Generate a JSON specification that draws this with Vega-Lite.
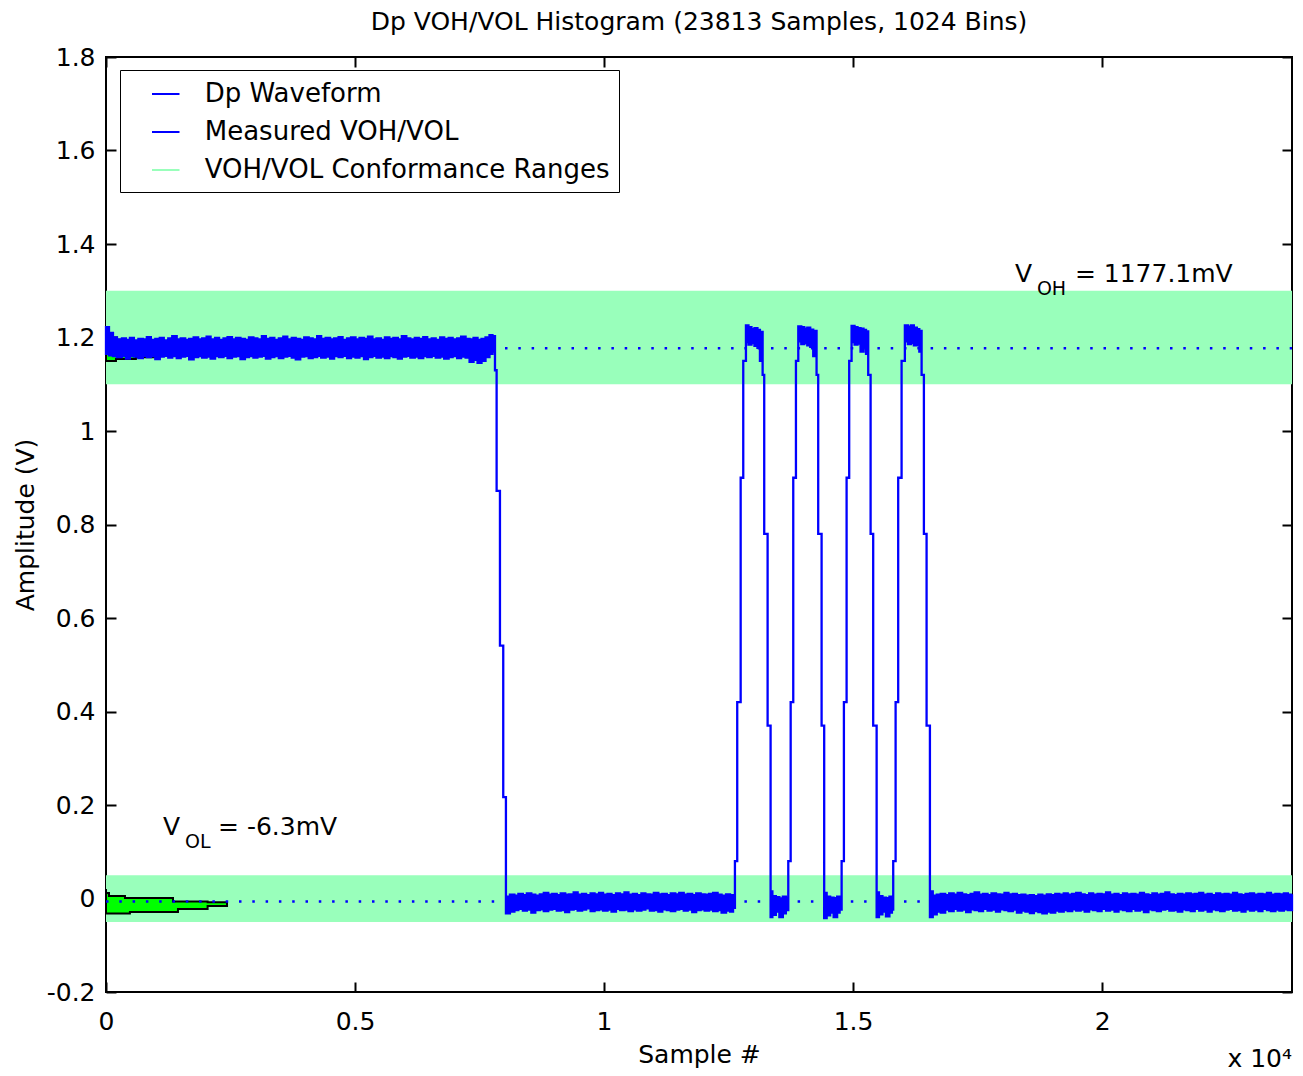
{
  "$schema": "https://vega.github.io/schema/vega-lite/v6.json",
  "width": 1186,
  "height": 935,
  "autosize": {"type": "none"},
  "padding": {"left": 106, "top": 57, "right": 11, "bottom": 84},
  "background": "white",
  "title": {"text": "Dp VOH/VOL Histogram (23813 Samples, 1024 Bins)", "fontSize": 25, "fontWeight": "normal", "font": "DejaVu Sans", "color": "black", "anchor": "middle", "offset": 10},
  "config": {
    "font": "DejaVu Sans",
    "view": {"stroke": "black", "strokeWidth": 2},
    "axis": {"grid": false, "domain": false, "tickColor": "black", "tickWidth": 2, "tickSize": -10, "labelFontSize": 25, "labelColor": "black", "labelFont": "DejaVu Sans", "titleFontSize": 25, "titleFontWeight": "normal", "titleColor": "black", "titleFont": "DejaVu Sans", "labelFlush": false, "labelOverlap": false, "minExtent": 0}
  },
  "resolve": {"axis": {"x": "independent", "y": "independent"}},
  "datasets": {
    "bands": [
      {"x0": 0, "x1": 23813, "lo": 1.1, "hi": 1.3},
      {"x0": 0, "x1": 23813, "lo": -0.05, "hi": 0.05}
    ],
    "hist": [
      {"g": "high", "v": 1.150, "n": 60},
      {"g": "high", "v": 1.154, "n": 200},
      {"g": "high", "v": 1.158, "n": 600},
      {"g": "high", "v": 1.163, "n": 1000},
      {"g": "high", "v": 1.170, "n": 1250},
      {"g": "high", "v": 1.180, "n": 1100},
      {"g": "high", "v": 1.188, "n": 700},
      {"g": "high", "v": 1.195, "n": 350},
      {"g": "high", "v": 1.200, "n": 220},
      {"g": "high", "v": 1.206, "n": 140},
      {"g": "high", "v": 1.213, "n": 60},
      {"g": "high", "v": 1.220, "n": 0},
      {"g": "low", "v": -0.032, "n": 120},
      {"g": "low", "v": -0.029, "n": 480},
      {"g": "low", "v": -0.0225, "n": 1445},
      {"g": "low", "v": -0.016, "n": 2040},
      {"g": "low", "v": -0.0080, "n": 2430},
      {"g": "low", "v": -0.0062, "n": 2040},
      {"g": "low", "v": 0.001, "n": 1345},
      {"g": "low", "v": 0.0054, "n": 381},
      {"g": "low", "v": 0.0118, "n": 60},
      {"g": "low", "v": 0.0203, "n": 0}
    ],
    "wave": [
      {"t": 0, "lo": 1.165, "hi": 1.222},
      {"t": 60, "lo": 1.162, "hi": 1.210},
      {"t": 140, "lo": 1.160, "hi": 1.200},
      {"t": 220, "lo": 1.158, "hi": 1.196},
      {"t": 320, "lo": 1.161, "hi": 1.198},
      {"t": 400, "lo": 1.155, "hi": 1.195},
      {"t": 480, "lo": 1.160, "hi": 1.199},
      {"t": 560, "lo": 1.159, "hi": 1.194},
      {"t": 650, "lo": 1.156, "hi": 1.197},
      {"t": 740, "lo": 1.161, "hi": 1.196},
      {"t": 820, "lo": 1.158, "hi": 1.201},
      {"t": 900, "lo": 1.160, "hi": 1.195},
      {"t": 990, "lo": 1.154, "hi": 1.197},
      {"t": 1080, "lo": 1.159, "hi": 1.199},
      {"t": 1160, "lo": 1.161, "hi": 1.194},
      {"t": 1250, "lo": 1.157, "hi": 1.198},
      {"t": 1330, "lo": 1.160, "hi": 1.203},
      {"t": 1420, "lo": 1.156, "hi": 1.196},
      {"t": 1500, "lo": 1.159, "hi": 1.198},
      {"t": 1590, "lo": 1.161, "hi": 1.195},
      {"t": 1670, "lo": 1.153, "hi": 1.197},
      {"t": 1760, "lo": 1.158, "hi": 1.200},
      {"t": 1850, "lo": 1.160, "hi": 1.196},
      {"t": 1930, "lo": 1.157, "hi": 1.198},
      {"t": 2020, "lo": 1.159, "hi": 1.202},
      {"t": 2100, "lo": 1.155, "hi": 1.196},
      {"t": 2190, "lo": 1.160, "hi": 1.199},
      {"t": 2270, "lo": 1.158, "hi": 1.195},
      {"t": 2360, "lo": 1.161, "hi": 1.198},
      {"t": 2440, "lo": 1.156, "hi": 1.201},
      {"t": 2530, "lo": 1.159, "hi": 1.196},
      {"t": 2610, "lo": 1.160, "hi": 1.199},
      {"t": 2700, "lo": 1.154, "hi": 1.197},
      {"t": 2790, "lo": 1.158, "hi": 1.195},
      {"t": 2870, "lo": 1.160, "hi": 1.200},
      {"t": 2960, "lo": 1.157, "hi": 1.198},
      {"t": 3040, "lo": 1.159, "hi": 1.196},
      {"t": 3130, "lo": 1.161, "hi": 1.203},
      {"t": 3210, "lo": 1.155, "hi": 1.197},
      {"t": 3300, "lo": 1.158, "hi": 1.199},
      {"t": 3380, "lo": 1.160, "hi": 1.195},
      {"t": 3470, "lo": 1.156, "hi": 1.198},
      {"t": 3560, "lo": 1.159, "hi": 1.202},
      {"t": 3640, "lo": 1.161, "hi": 1.196},
      {"t": 3730, "lo": 1.157, "hi": 1.199},
      {"t": 3810, "lo": 1.153, "hi": 1.197},
      {"t": 3900, "lo": 1.159, "hi": 1.195},
      {"t": 3980, "lo": 1.160, "hi": 1.200},
      {"t": 4070, "lo": 1.156, "hi": 1.198},
      {"t": 4150, "lo": 1.158, "hi": 1.196},
      {"t": 4240, "lo": 1.161, "hi": 1.203},
      {"t": 4320, "lo": 1.157, "hi": 1.197},
      {"t": 4410, "lo": 1.159, "hi": 1.199},
      {"t": 4500, "lo": 1.155, "hi": 1.196},
      {"t": 4580, "lo": 1.160, "hi": 1.198},
      {"t": 4670, "lo": 1.158, "hi": 1.201},
      {"t": 4750, "lo": 1.161, "hi": 1.195},
      {"t": 4840, "lo": 1.156, "hi": 1.198},
      {"t": 4920, "lo": 1.159, "hi": 1.200},
      {"t": 5010, "lo": 1.157, "hi": 1.196},
      {"t": 5090, "lo": 1.160, "hi": 1.199},
      {"t": 5180, "lo": 1.154, "hi": 1.197},
      {"t": 5260, "lo": 1.158, "hi": 1.202},
      {"t": 5350, "lo": 1.161, "hi": 1.196},
      {"t": 5430, "lo": 1.157, "hi": 1.198},
      {"t": 5520, "lo": 1.159, "hi": 1.195},
      {"t": 5600, "lo": 1.156, "hi": 1.200},
      {"t": 5690, "lo": 1.160, "hi": 1.197},
      {"t": 5770, "lo": 1.158, "hi": 1.199},
      {"t": 5860, "lo": 1.155, "hi": 1.196},
      {"t": 5940, "lo": 1.159, "hi": 1.203},
      {"t": 6030, "lo": 1.161, "hi": 1.198},
      {"t": 6110, "lo": 1.157, "hi": 1.196},
      {"t": 6200, "lo": 1.159, "hi": 1.199},
      {"t": 6280, "lo": 1.156, "hi": 1.197},
      {"t": 6370, "lo": 1.160, "hi": 1.201},
      {"t": 6450, "lo": 1.158, "hi": 1.196},
      {"t": 6540, "lo": 1.161, "hi": 1.198},
      {"t": 6620, "lo": 1.157, "hi": 1.195},
      {"t": 6710, "lo": 1.159, "hi": 1.200},
      {"t": 6790, "lo": 1.155, "hi": 1.197},
      {"t": 6880, "lo": 1.158, "hi": 1.199},
      {"t": 6960, "lo": 1.160, "hi": 1.196},
      {"t": 7050, "lo": 1.156, "hi": 1.198},
      {"t": 7130, "lo": 1.159, "hi": 1.202},
      {"t": 7220, "lo": 1.157, "hi": 1.197},
      {"t": 7300, "lo": 1.148, "hi": 1.196},
      {"t": 7380, "lo": 1.152, "hi": 1.199},
      {"t": 7460, "lo": 1.146, "hi": 1.195},
      {"t": 7540, "lo": 1.150, "hi": 1.197},
      {"t": 7620, "lo": 1.158, "hi": 1.200},
      {"t": 7700, "lo": 1.165, "hi": 1.205},
      {"t": 7760, "lo": 1.170, "hi": 1.203},
      {"t": 7810, "lo": 1.13, "hi": 1.13},
      {"t": 7843, "lo": 0.872, "hi": 0.872},
      {"t": 7910, "lo": 0.541, "hi": 0.541},
      {"t": 7976, "lo": 0.217, "hi": 0.217},
      {"t": 8030, "lo": -0.032, "hi": 0.004},
      {"t": 8110, "lo": -0.028, "hi": 0.008},
      {"t": 8200, "lo": -0.025, "hi": 0.006},
      {"t": 8280, "lo": -0.022, "hi": 0.010},
      {"t": 8370, "lo": -0.026, "hi": 0.007},
      {"t": 8450, "lo": -0.024, "hi": 0.011},
      {"t": 8540, "lo": -0.030, "hi": 0.008},
      {"t": 8620, "lo": -0.025, "hi": 0.006},
      {"t": 8710, "lo": -0.023, "hi": 0.009},
      {"t": 8790, "lo": -0.027, "hi": 0.012},
      {"t": 8880, "lo": -0.024, "hi": 0.008},
      {"t": 8960, "lo": -0.022, "hi": 0.010},
      {"t": 9050, "lo": -0.026, "hi": 0.007},
      {"t": 9130, "lo": -0.025, "hi": 0.011},
      {"t": 9220, "lo": -0.029, "hi": 0.008},
      {"t": 9300, "lo": -0.024, "hi": 0.009},
      {"t": 9390, "lo": -0.022, "hi": 0.013},
      {"t": 9470, "lo": -0.026, "hi": 0.008},
      {"t": 9560, "lo": -0.024, "hi": 0.010},
      {"t": 9640, "lo": -0.021, "hi": 0.007},
      {"t": 9730, "lo": -0.027, "hi": 0.011},
      {"t": 9810, "lo": -0.025, "hi": 0.009},
      {"t": 9900, "lo": -0.023, "hi": 0.012},
      {"t": 9980, "lo": -0.026, "hi": 0.008},
      {"t": 10070, "lo": -0.024, "hi": 0.010},
      {"t": 10150, "lo": -0.028, "hi": 0.007},
      {"t": 10240, "lo": -0.022, "hi": 0.011},
      {"t": 10320, "lo": -0.025, "hi": 0.009},
      {"t": 10410, "lo": -0.024, "hi": 0.013},
      {"t": 10490, "lo": -0.027, "hi": 0.008},
      {"t": 10580, "lo": -0.023, "hi": 0.010},
      {"t": 10660, "lo": -0.026, "hi": 0.007},
      {"t": 10750, "lo": -0.024, "hi": 0.011},
      {"t": 10830, "lo": -0.021, "hi": 0.009},
      {"t": 10920, "lo": -0.026, "hi": 0.008},
      {"t": 11000, "lo": -0.025, "hi": 0.012},
      {"t": 11090, "lo": -0.028, "hi": 0.009},
      {"t": 11170, "lo": -0.023, "hi": 0.010},
      {"t": 11260, "lo": -0.025, "hi": 0.007},
      {"t": 11340, "lo": -0.027, "hi": 0.011},
      {"t": 11430, "lo": -0.024, "hi": 0.009},
      {"t": 11510, "lo": -0.022, "hi": 0.012},
      {"t": 11600, "lo": -0.026, "hi": 0.008},
      {"t": 11680, "lo": -0.024, "hi": 0.010},
      {"t": 11770, "lo": -0.029, "hi": 0.007},
      {"t": 11850, "lo": -0.025, "hi": 0.011},
      {"t": 11940, "lo": -0.023, "hi": 0.009},
      {"t": 12020, "lo": -0.026, "hi": 0.008},
      {"t": 12110, "lo": -0.024, "hi": 0.010},
      {"t": 12190, "lo": -0.027, "hi": 0.012},
      {"t": 12280, "lo": -0.025, "hi": 0.008},
      {"t": 12360, "lo": -0.030, "hi": 0.006},
      {"t": 12450, "lo": -0.026, "hi": 0.009},
      {"t": 12530, "lo": -0.028, "hi": 0.007},
      {"t": 12590, "lo": -0.020, "hi": 0.003},
      {"t": 12628, "lo": 0.08, "hi": 0.08},
      {"t": 12674, "lo": 0.42, "hi": 0.42},
      {"t": 12743, "lo": 0.90, "hi": 0.90},
      {"t": 12795, "lo": 1.15, "hi": 1.15},
      {"t": 12849, "lo": 1.190, "hi": 1.226},
      {"t": 12900, "lo": 1.185, "hi": 1.222},
      {"t": 12960, "lo": 1.188, "hi": 1.218},
      {"t": 13020, "lo": 1.182, "hi": 1.220},
      {"t": 13080, "lo": 1.178, "hi": 1.216},
      {"t": 13130, "lo": 1.150, "hi": 1.212},
      {"t": 13184, "lo": 1.12, "hi": 1.12},
      {"t": 13216, "lo": 0.78, "hi": 0.78},
      {"t": 13284, "lo": 0.37, "hi": 0.37},
      {"t": 13344, "lo": -0.040, "hi": 0.015},
      {"t": 13380, "lo": -0.035, "hi": 0.005},
      {"t": 13450, "lo": -0.028, "hi": 0.003},
      {"t": 13520, "lo": -0.040, "hi": 0.000},
      {"t": 13590, "lo": -0.032, "hi": 0.004},
      {"t": 13650, "lo": -0.025, "hi": 0.002},
      {"t": 13699, "lo": 0.08, "hi": 0.08},
      {"t": 13747, "lo": 0.42, "hi": 0.42},
      {"t": 13799, "lo": 0.90, "hi": 0.90},
      {"t": 13853, "lo": 1.15, "hi": 1.15},
      {"t": 13900, "lo": 1.192, "hi": 1.224},
      {"t": 13960, "lo": 1.186, "hi": 1.222},
      {"t": 14020, "lo": 1.188, "hi": 1.219},
      {"t": 14080, "lo": 1.183, "hi": 1.221},
      {"t": 14140, "lo": 1.180, "hi": 1.217},
      {"t": 14200, "lo": 1.160, "hi": 1.214},
      {"t": 14267, "lo": 1.12, "hi": 1.12},
      {"t": 14300, "lo": 0.78, "hi": 0.78},
      {"t": 14368, "lo": 0.37, "hi": 0.37},
      {"t": 14420, "lo": -0.042, "hi": 0.012},
      {"t": 14470, "lo": -0.036, "hi": 0.004},
      {"t": 14540, "lo": -0.030, "hi": 0.002},
      {"t": 14610, "lo": -0.040, "hi": 0.001},
      {"t": 14680, "lo": -0.030, "hi": 0.004},
      {"t": 14730, "lo": -0.024, "hi": 0.003},
      {"t": 14770, "lo": 0.08, "hi": 0.08},
      {"t": 14816, "lo": 0.42, "hi": 0.42},
      {"t": 14870, "lo": 0.90, "hi": 0.90},
      {"t": 14922, "lo": 1.15, "hi": 1.15},
      {"t": 14970, "lo": 1.190, "hi": 1.225},
      {"t": 15030, "lo": 1.185, "hi": 1.222},
      {"t": 15090, "lo": 1.187, "hi": 1.220},
      {"t": 15150, "lo": 1.170, "hi": 1.219},
      {"t": 15210, "lo": 1.180, "hi": 1.216},
      {"t": 15260, "lo": 1.165, "hi": 1.213},
      {"t": 15304, "lo": 1.12, "hi": 1.12},
      {"t": 15352, "lo": 0.78, "hi": 0.78},
      {"t": 15404, "lo": 0.37, "hi": 0.37},
      {"t": 15473, "lo": -0.040, "hi": 0.013},
      {"t": 15520, "lo": -0.034, "hi": 0.005},
      {"t": 15590, "lo": -0.028, "hi": 0.002},
      {"t": 15660, "lo": -0.038, "hi": 0.001},
      {"t": 15730, "lo": -0.030, "hi": 0.004},
      {"t": 15780, "lo": -0.024, "hi": 0.003},
      {"t": 15806, "lo": 0.08, "hi": 0.08},
      {"t": 15854, "lo": 0.42, "hi": 0.42},
      {"t": 15906, "lo": 0.90, "hi": 0.90},
      {"t": 15974, "lo": 1.15, "hi": 1.15},
      {"t": 16040, "lo": 1.192, "hi": 1.226},
      {"t": 16100, "lo": 1.186, "hi": 1.223},
      {"t": 16160, "lo": 1.188, "hi": 1.226},
      {"t": 16220, "lo": 1.183, "hi": 1.221},
      {"t": 16280, "lo": 1.185, "hi": 1.218},
      {"t": 16330, "lo": 1.170, "hi": 1.214},
      {"t": 16376, "lo": 1.12, "hi": 1.12},
      {"t": 16422, "lo": 0.78, "hi": 0.78},
      {"t": 16476, "lo": 0.37, "hi": 0.37},
      {"t": 16543, "lo": -0.040, "hi": 0.015},
      {"t": 16600, "lo": -0.034, "hi": 0.006},
      {"t": 16680, "lo": -0.028, "hi": 0.008},
      {"t": 16760, "lo": -0.030, "hi": 0.010},
      {"t": 16850, "lo": -0.024, "hi": 0.007},
      {"t": 16930, "lo": -0.027, "hi": 0.011},
      {"t": 17020, "lo": -0.022, "hi": 0.008},
      {"t": 17100, "lo": -0.026, "hi": 0.012},
      {"t": 17190, "lo": -0.024, "hi": 0.009},
      {"t": 17270, "lo": -0.029, "hi": 0.007},
      {"t": 17360, "lo": -0.023, "hi": 0.010},
      {"t": 17440, "lo": -0.025, "hi": 0.013},
      {"t": 17530, "lo": -0.027, "hi": 0.008},
      {"t": 17610, "lo": -0.022, "hi": 0.010},
      {"t": 17700, "lo": -0.026, "hi": 0.007},
      {"t": 17780, "lo": -0.024, "hi": 0.011},
      {"t": 17870, "lo": -0.028, "hi": 0.009},
      {"t": 17950, "lo": -0.023, "hi": 0.008},
      {"t": 18040, "lo": -0.025, "hi": 0.012},
      {"t": 18120, "lo": -0.027, "hi": 0.009},
      {"t": 18210, "lo": -0.024, "hi": 0.010},
      {"t": 18290, "lo": -0.030, "hi": 0.007},
      {"t": 18380, "lo": -0.026, "hi": 0.008},
      {"t": 18460, "lo": -0.028, "hi": 0.006},
      {"t": 18550, "lo": -0.031, "hi": 0.007},
      {"t": 18630, "lo": -0.027, "hi": 0.005},
      {"t": 18720, "lo": -0.029, "hi": 0.008},
      {"t": 18800, "lo": -0.032, "hi": 0.006},
      {"t": 18890, "lo": -0.028, "hi": 0.009},
      {"t": 18970, "lo": -0.030, "hi": 0.007},
      {"t": 19060, "lo": -0.026, "hi": 0.010},
      {"t": 19140, "lo": -0.028, "hi": 0.008},
      {"t": 19230, "lo": -0.025, "hi": 0.011},
      {"t": 19310, "lo": -0.027, "hi": 0.008},
      {"t": 19400, "lo": -0.023, "hi": 0.010},
      {"t": 19480, "lo": -0.026, "hi": 0.012},
      {"t": 19570, "lo": -0.024, "hi": 0.009},
      {"t": 19650, "lo": -0.028, "hi": 0.007},
      {"t": 19740, "lo": -0.023, "hi": 0.011},
      {"t": 19820, "lo": -0.025, "hi": 0.008},
      {"t": 19910, "lo": -0.027, "hi": 0.010},
      {"t": 19990, "lo": -0.022, "hi": 0.009},
      {"t": 20080, "lo": -0.026, "hi": 0.013},
      {"t": 20160, "lo": -0.024, "hi": 0.008},
      {"t": 20250, "lo": -0.028, "hi": 0.010},
      {"t": 20330, "lo": -0.023, "hi": 0.007},
      {"t": 20420, "lo": -0.025, "hi": 0.011},
      {"t": 20500, "lo": -0.027, "hi": 0.009},
      {"t": 20590, "lo": -0.022, "hi": 0.010},
      {"t": 20670, "lo": -0.026, "hi": 0.008},
      {"t": 20760, "lo": -0.024, "hi": 0.012},
      {"t": 20840, "lo": -0.029, "hi": 0.009},
      {"t": 20930, "lo": -0.023, "hi": 0.007},
      {"t": 21010, "lo": -0.025, "hi": 0.011},
      {"t": 21100, "lo": -0.027, "hi": 0.008},
      {"t": 21180, "lo": -0.024, "hi": 0.010},
      {"t": 21270, "lo": -0.022, "hi": 0.013},
      {"t": 21350, "lo": -0.026, "hi": 0.009},
      {"t": 21440, "lo": -0.025, "hi": 0.007},
      {"t": 21520, "lo": -0.028, "hi": 0.010},
      {"t": 21610, "lo": -0.023, "hi": 0.008},
      {"t": 21690, "lo": -0.025, "hi": 0.011},
      {"t": 21780, "lo": -0.027, "hi": 0.009},
      {"t": 21860, "lo": -0.022, "hi": 0.010},
      {"t": 21950, "lo": -0.026, "hi": 0.012},
      {"t": 22030, "lo": -0.024, "hi": 0.008},
      {"t": 22120, "lo": -0.028, "hi": 0.010},
      {"t": 22200, "lo": -0.023, "hi": 0.007},
      {"t": 22290, "lo": -0.025, "hi": 0.011},
      {"t": 22370, "lo": -0.027, "hi": 0.009},
      {"t": 22460, "lo": -0.024, "hi": 0.010},
      {"t": 22540, "lo": -0.022, "hi": 0.008},
      {"t": 22630, "lo": -0.026, "hi": 0.012},
      {"t": 22710, "lo": -0.025, "hi": 0.009},
      {"t": 22800, "lo": -0.028, "hi": 0.007},
      {"t": 22880, "lo": -0.023, "hi": 0.010},
      {"t": 22970, "lo": -0.026, "hi": 0.011},
      {"t": 23050, "lo": -0.024, "hi": 0.008},
      {"t": 23140, "lo": -0.027, "hi": 0.010},
      {"t": 23220, "lo": -0.022, "hi": 0.009},
      {"t": 23310, "lo": -0.025, "hi": 0.012},
      {"t": 23390, "lo": -0.027, "hi": 0.008},
      {"t": 23480, "lo": -0.024, "hi": 0.010},
      {"t": 23560, "lo": -0.026, "hi": 0.009},
      {"t": 23650, "lo": -0.023, "hi": 0.011},
      {"t": 23730, "lo": -0.025, "hi": 0.008},
      {"t": 23813, "lo": -0.024, "hi": 0.009}
    ],
    "measured": [
      {"x0": 0, "x1": 23813, "y": 1.1771},
      {"x0": 0, "x1": 23813, "y": -0.0063}
    ],
    "labels": [
      {"t": 18249, "v": 1.3187, "s": "V"},
      {"t": 19454, "v": 1.3187, "s": "= 1177.1mV"},
      {"t": 1144, "v": 0.1358, "s": "V"},
      {"t": 2249, "v": 0.1358, "s": "= -6.3mV"}
    ],
    "subs": [
      {"t": 18691, "v": 1.2909, "s": "OH"},
      {"t": 1586, "v": 0.108, "s": "OL"}
    ],
    "exponent": [
      {"t": 23813, "v": -0.2, "s": "x 10⁴"}
    ]
  },
  "layer": [
    {
      "data": {"name": "bands"},
      "mark": {"type": "rect", "opacity": 1},
      "encoding": {
        "x": {"field": "x0", "type": "quantitative", "scale": {"domain": [0, 23813], "nice": false, "zero": false},
              "axis": {"orient": "bottom", "values": [0, 5000, 10000, 15000, 20000], "labelExpr": "'' + datum.value/10000", "title": "Sample #", "labelPadding": 27, "titlePadding": 8, "labelAngle": 0}},
        "x2": {"field": "x1"},
        "y": {"field": "lo", "type": "quantitative", "scale": {"domain": [-0.2, 1.8], "nice": false, "zero": false},
              "axis": {"orient": "left", "values": [-0.2, 0, 0.2, 0.4, 0.6, 0.8, 1, 1.2, 1.4, 1.6, 1.8], "labelExpr": "'' + round(datum.value*10)/10", "title": "Amplitude (V)", "labelPadding": 21, "titlePadding": 8}},
        "y2": {"field": "hi"},
        "color": {"datum": "VOH/VOL Conformance Ranges", "type": "nominal",
          "scale": {"domain": ["Dp Waveform", "Measured VOH/VOL", "VOH/VOL Conformance Ranges"], "range": ["#0000ff", "#0000ff", "#99ffbb"]},
          "legend": {
            "title": null, "orient": "none", "legendX": 14, "legendY": 13, "direction": "vertical",
            "strokeColor": "black", "fillColor": "white", "padding": 9,
            "labelFontSize": 26, "labelFont": "DejaVu Sans", "labelColor": "black", "labelOffset": 24, "labelLimit": 800,
            "symbolType": "stroke", "symbolSize": 756, "symbolStrokeWidth": 2, "symbolOffset": 21.75, "rowPadding": 10, "cornerRadius": 0
          }}
      }
    },
    {
      "data": {"name": "hist"},
      "mark": {"type": "area", "orient": "horizontal", "interpolate": "step-before", "fill": "#00ff00", "stroke": "black", "strokeWidth": 2, "fillOpacity": 1},
      "encoding": {
        "y": {"field": "v", "type": "quantitative", "axis": null},
        "x": {"field": "n", "type": "quantitative", "axis": null, "stack": null},
        "detail": {"field": "g", "type": "nominal"}
      }
    },
    {
      "data": {"name": "wave"},
      "mark": {"type": "area", "orient": "vertical", "interpolate": "step-after", "stroke": "#0000ff", "strokeWidth": 2.3, "fillOpacity": 1},
      "encoding": {
        "x": {"field": "t", "type": "quantitative", "axis": null},
        "y": {"field": "lo", "type": "quantitative", "axis": null},
        "y2": {"field": "hi"},
        "color": {"datum": "Dp Waveform", "type": "nominal", "legend": null}
      }
    },
    {
      "data": {"name": "measured"},
      "mark": {"type": "rule", "strokeDash": [2.5, 10.8], "strokeWidth": 2.5},
      "encoding": {
        "x": {"field": "x0", "type": "quantitative",
              "axis": {"orient": "top", "values": [0, 5000, 10000, 15000, 20000], "labels": false, "title": null}},
        "x2": {"field": "x1"},
        "y": {"field": "y", "type": "quantitative",
              "axis": {"orient": "right", "values": [-0.2, 0, 0.2, 0.4, 0.6, 0.8, 1, 1.2, 1.4, 1.6, 1.8], "labels": false, "title": null}},
        "color": {"datum": "Measured VOH/VOL", "type": "nominal", "legend": null}
      }
    },
    {
      "data": {"name": "labels"},
      "mark": {"type": "text", "align": "left", "baseline": "alphabetic", "fontSize": 25, "font": "DejaVu Sans", "color": "black"},
      "encoding": {
        "x": {"field": "t", "type": "quantitative", "axis": null},
        "y": {"field": "v", "type": "quantitative", "axis": null},
        "text": {"field": "s", "type": "nominal"}
      }
    },
    {
      "data": {"name": "subs"},
      "mark": {"type": "text", "align": "left", "baseline": "alphabetic", "fontSize": 19, "font": "DejaVu Sans", "color": "black"},
      "encoding": {
        "x": {"field": "t", "type": "quantitative", "axis": null},
        "y": {"field": "v", "type": "quantitative", "axis": null},
        "text": {"field": "s", "type": "nominal"}
      }
    },
    {
      "data": {"name": "exponent"},
      "mark": {"type": "text", "align": "right", "baseline": "alphabetic", "fontSize": 25, "font": "DejaVu Sans", "color": "black", "dy": 75},
      "encoding": {
        "x": {"field": "t", "type": "quantitative", "axis": null},
        "y": {"field": "v", "type": "quantitative", "axis": null},
        "text": {"field": "s", "type": "nominal"}
      }
    }
  ]
}
